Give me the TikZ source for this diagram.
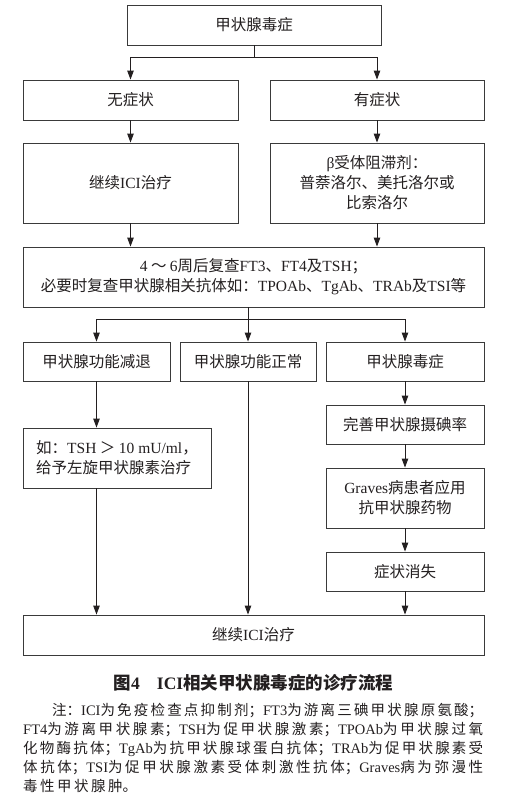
\documentclass[tikz,border=0pt]{standalone}
\usepackage{fontspec}
\setmainfont{Noto Sans CJK SC}
\newfontfamily\latinfont{Liberation Serif}
\newcommand\lat[1]{{\latinfont #1}}
\usetikzlibrary{arrows.meta,calc}
\definecolor{ink}{HTML}{231F20}
\definecolor{edge}{HTML}{3A3A3A}
\tikzset{
  box/.style={draw=edge, line width=0.9pt, inner sep=0pt, align=center, text=ink, font=\fontsize{15.5}{20}\selectfont},
  arr/.style={draw=ink, line width=0.9pt, -{Triangle[length=9pt,width=6.5pt]}},
  ln/.style={draw=ink, line width=0.9pt},
}
\begin{document}
\begin{tikzpicture}[x=1pt,y=-1pt]
\useasboundingbox (0,0) rectangle (505,806);
% nodes
\node[box, minimum width=254pt, minimum height=40pt] (top) at (254,25) {甲状腺毒症};
\node[box, minimum width=215pt, minimum height=40pt] (nosym) at (130.5,100) {无症状};
\node[box, minimum width=214pt, minimum height=40pt] (sym) at (377,100) {有症状};
\node[box, minimum width=215pt, minimum height=80pt] (cont1) at (130.5,183) {继续\lat{ICI}治疗};
\node[box, minimum width=214pt, minimum height=80pt] (beta) at (377,183) {\lat{β}受体阻滞剂：\\普萘洛尔、美托洛尔或\\比索洛尔};
\node[box, minimum width=461pt, minimum height=60pt] (recheck) at (253.5,277) {\lat{4} ～ \lat{6}周后复查\lat{FT3}、\lat{FT4}及\lat{TSH}；\\必要时复查甲状腺相关抗体如：\lat{TPOAb}、\lat{TgAb}、\lat{TRAb}及\lat{TSI}等};
\node[box, minimum width=147pt, minimum height=39pt] (hypo) at (96.5,361.5) {甲状腺功能减退};
\node[box, minimum width=136pt, minimum height=39pt] (normal) at (248,361.5) {甲状腺功能正常};
\node[box, minimum width=158pt, minimum height=39pt] (thyro) at (405,361.5) {甲状腺毒症};
\node[box, minimum width=188pt, minimum height=60pt, align=left] (tsh) at (117,458) {如：\lat{TSH} ＞ \lat{10 mU/ml}，\\给予左旋甲状腺素治疗};
\node[box, minimum width=158pt, minimum height=39pt] (iodine) at (405,424.5) {完善甲状腺摄碘率};
\node[box, minimum width=158pt, minimum height=60pt] (graves) at (405,498) {\lat{Graves}病患者应用\\抗甲状腺药物};
\node[box, minimum width=158pt, minimum height=39pt] (relief) at (405,571.5) {症状消失};
\node[box, minimum width=461pt, minimum height=40pt] (final) at (253.5,635) {继续\lat{ICI}治疗};
% connectors
\coordinate (s1) at (254,57);
\draw[ln] (top.south) -- (s1);
\draw[arr] (s1) -| (nosym.north);
\draw[arr] (s1) -| (sym.north);
\draw[arr] (nosym.south) -- (cont1.north);
\draw[arr] (sym.south) -- (beta.north);
\draw[arr] (cont1.south) -- (cont1.south |- recheck.north);
\draw[arr] (beta.south) -- (beta.south |- recheck.north);
\coordinate (s2) at (248,319);
\draw[ln] (s2 |- recheck.south) -- (s2);
\draw[arr] (s2) -| (hypo.north);
\draw[arr] (s2) -- (normal.north);
\draw[arr] (s2) -| (thyro.north);
\draw[arr] (hypo.south) -- (hypo.south |- tsh.north);
\draw[arr] (hypo.south |- tsh.south) -- (hypo.south |- final.north);
\draw[arr] (normal.south) -- (normal.south |- final.north);
\draw[arr] (thyro.south) -- (iodine.north);
\draw[arr] (iodine.south) -- (graves.north);
\draw[arr] (graves.south) -- (relief.north);
\draw[arr] (relief.south) -- (relief.south |- final.north);
% caption
\node[text=ink, inner sep=0pt, font=\fontsize{17.5}{20}\selectfont\bfseries] (cap) at (253.5,683) {图\lat{4}\hspace{17pt}\lat{ICI}相关甲状腺毒症的诊疗流程};
% notes
\node[text=ink, inner sep=0pt, anchor=north west, text width=460pt, align=justify,
  font=\fontsize{14.5}{19}\selectfont] (notes) at (23,703) {%
\XeTeXlinebreaklocale "zh"\XeTeXlinebreakskip=2.5pt plus 2pt minus 1pt
\hspace*{29pt}注：\lat{ICI}为免疫检查点抑制剂；\lat{FT3}为游离三碘甲状腺原氨酸；\linebreak
\lat{FT4}为游离甲状腺素；\lat{TSH}为促甲状腺激素；\lat{TPOAb}为甲状腺过氧\linebreak
化物酶抗体；\lat{TgAb}为抗甲状腺球蛋白抗体；\lat{TRAb}为促甲状腺素受\linebreak
体抗体；\lat{TSI}为促甲状腺激素受体刺激性抗体；\lat{Graves}病为弥漫性\linebreak
毒性甲状腺肿。};
\end{tikzpicture}
\end{document}
